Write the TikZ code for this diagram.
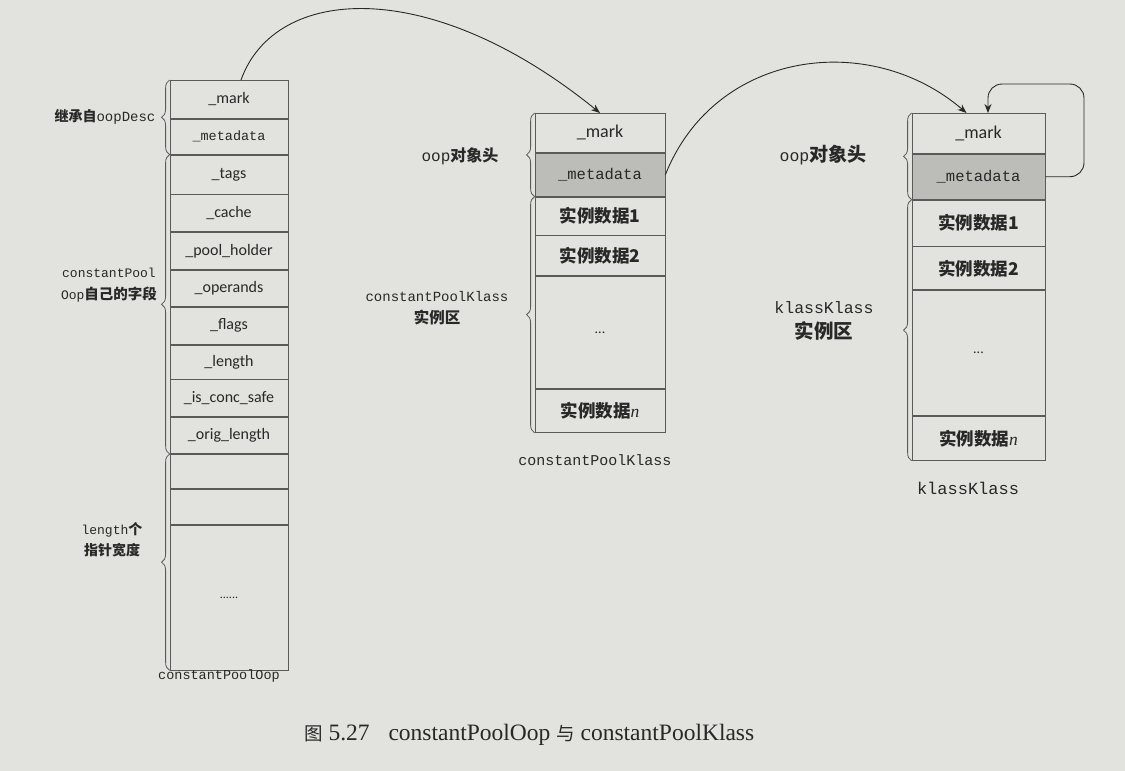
\documentclass[tikz,border=0pt]{standalone}
\usepackage{fontspec}
\setmainfont{Liberation Serif}
\newfontfamily\cjk{Noto Sans CJK SC}
\newfontfamily\mono{Liberation Mono}
\newfontfamily\lab{Carlito}
\usetikzlibrary{arrows.meta,decorations.pathreplacing,calc}
\definecolor{paper}{RGB}{226,226,223}
\definecolor{ink}{RGB}{40,40,40}
\definecolor{edge}{RGB}{90,90,90}
\definecolor{metafill}{RGB}{188,188,185}
\begin{document}
\begin{tikzpicture}[x=1pt,y=-1pt,
  cell/.style={draw=edge, line width=0.8pt, inner sep=0pt, anchor=north, text=ink},
  c1/.style={cell, minimum width=118pt, font=\lab\fontsize{16}{18}\selectfont},
  c2/.style={cell, minimum width=130pt, font=\lab\fontsize{18}{20}\selectfont},
  c3/.style={cell, minimum width=133pt, font=\lab\fontsize{18}{20}\selectfont},
  meta/.style={fill=metafill},
  data/.style={font=\cjk\bfseries\fontsize{17.5}{20}\selectfont},
  brc/.style={draw=edge, line width=0.8pt, decorate, decoration={brace, amplitude=8pt}},
  lbl/.style={text=ink, align=center, inner sep=0pt},
  arr/.style={draw=ink, line width=0.9pt, -{Stealth[length=9pt,width=7pt]}},
  title/.style={text=ink, inner sep=0pt}
]
\fill[paper] (0,0) rectangle (1125,771);
\useasboundingbox (0,0) rectangle (1125,771);

% ---------- constantPoolOop ----------
\node[c1, minimum height=38] (a1) at (229,80) {\_mark};
\node[c1, minimum height=35] (a2) at (a1.south) {\mono\fontsize{13.5}{15}\selectfont\_metadata};
\node[c1, minimum height=39] (a3) at (a2.south) {\_tags};
\node[c1, minimum height=37] (a4) at (a3.south) {\_cache};
\node[c1, minimum height=37] (a5) at (a4.south) {\_pool\_holder};
\node[c1, minimum height=36] (a6) at (a5.south) {\_operands};
\node[c1, minimum height=37] (a7) at (a6.south) {\_flags};
\node[c1, minimum height=34] (a8) at (a7.south) {\_length};
\node[c1, minimum height=37] (a9) at (a8.south) {\_is\_conc\_safe};
\node[c1, minimum height=36] (a10) at (a9.south) {\_orig\_length};
\node[c1, minimum height=34] (a11) at (a10.south) {};
\node[c1, minimum height=35] (a12) at (a11.south) {};
\node[c1, minimum height=145] (a13) at (a12.south) {\fontsize{12}{12}\selectfont ......};
\node[title, font=\mono\fontsize{13.5}{15}\selectfont] (t1) at (219,676) {constantPoolOop};

\draw[brc] (a2.south west) -- (a1.north west);
\draw[brc] (a10.south west) -- (a3.north west);
\draw[brc] (a13.south west) -- (a11.north west);

\node[lbl, font=\fontsize{14}{16}\selectfont] (l1) at (105,117)
  {{\cjk\bfseries 继承自}{\mono oopDesc}};
\node[lbl, font=\fontsize{13}{22}\selectfont] (l2) at (109,285)
  {{\mono constantPool}\\{\mono Oop}{\cjk\bfseries\fontsize{14.5}{22}\selectfont 自己的字段}};
\node[lbl, font=\fontsize{13}{21}\selectfont] (l3) at (112,540)
  {{\mono length}{\cjk\bfseries\fontsize{14}{21}\selectfont 个}\\{\cjk\bfseries\fontsize{14}{21}\selectfont 指针宽度}};

% ---------- constantPoolKlass ----------
\node[c2, minimum height=39] (b1) at (600,113) {\_mark};
\node[c2, meta, minimum height=43] (b2) at (b1.south) {\mono\fontsize{15.5}{17}\selectfont\_metadata};
\node[c2, data, minimum height=38] (b3) at (b2.south) {实例数据1};
\node[c2, data, minimum height=40] (b4) at (b3.south) {实例数据2};
\node[c2, minimum height=112] (b5) at (b4.south) {\fontsize{14}{14}\selectfont ...};
\node[c2, data, minimum height=43] (b6) at (b5.south) {实例数据{\rmfamily\mdseries\itshape n}};
\node[title, font=\mono\fontsize{15}{17}\selectfont] (t2) at (595,460) {constantPoolKlass};

\draw[brc] (b2.south west) -- (b1.north west);
\draw[brc] (b6.south west) -- (b3.north west);
\node[lbl, font=\fontsize{16}{18}\selectfont] (l4) at (460,156)
  {{\mono oop}{\cjk\bfseries 对象头}};
\node[lbl, font=\fontsize{14}{22}\selectfont] (l5) at (437,308)
  {{\mono constantPoolKlass}\\{\cjk\bfseries\fontsize{15.5}{22}\selectfont 实例区}};

% ---------- klassKlass ----------
\node[c3, minimum height=40] (k1) at (978.5,113) {\_mark};
\node[c3, meta, minimum height=45] (k2) at (k1.south) {\mono\fontsize{15.5}{17}\selectfont\_metadata};
\node[c3, data, minimum height=46] (k3) at (k2.south) {实例数据1};
\node[c3, data, minimum height=43] (k4) at (k3.south) {实例数据2};
\node[c3, minimum height=125] (k5) at (k4.south) {\fontsize{14}{14}\selectfont ...};
\node[c3, data, minimum height=44] (k6) at (k5.south) {实例数据{\rmfamily\mdseries\itshape n}};
\node[title, font=\mono\fontsize{17}{19}\selectfont] (t3) at (968,488) {klassKlass};

\draw[brc] (k2.south west) -- (k1.north west);
\draw[brc] (k6.south west) -- (k3.north west);
\node[lbl, font=\fontsize{16.5}{18}\selectfont] (l6) at (823,155)
  {{\mono oop}{\cjk\bfseries\fontsize{19}{20}\selectfont 对象头}};
\node[lbl, font=\fontsize{16.5}{25}\selectfont] (l7) at (824,321)
  {{\mono klassKlass}\\{\cjk\bfseries\fontsize{19.5}{25}\selectfont 实例区}};

% ---------- connectors ----------
\draw[arr] ([xshift=12pt]a1.north) .. controls (275,-15) and (430,-25) .. (b1.north);
\draw[arr] (b2.east) .. controls (715,50) and (870,30) .. ([xshift=-12pt]k1.north);
\coordinate (loopc) at (1084,84);
\draw[arr, rounded corners=14pt] (k2.east) -| (loopc) -| ([xshift=9.5pt]k1.north);

% ---------- caption ----------
\node[text=ink, inner sep=0pt, anchor=west, font=\fontsize{23.5}{26}\selectfont] (cap) at (304,735)
  {{\cjk\fontsize{18.5}{26}\selectfont 图} 5.27\hspace{0.8em}constantPoolOop {\cjk\fontsize{18.5}{26}\selectfont 与} constantPoolKlass};
\end{tikzpicture}
\end{document}
